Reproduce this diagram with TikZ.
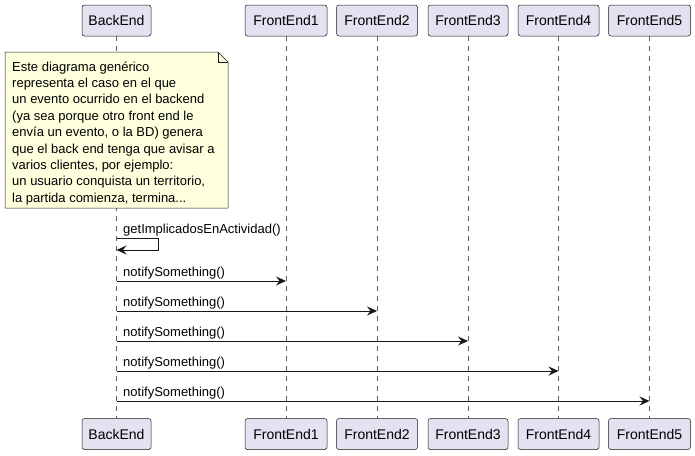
\documentclass[tikz,border=0pt]{standalone}
\usepackage{fontspec}
\setmainfont{Liberation Sans}
\usetikzlibrary{arrows.meta}
\definecolor{partfill}{HTML}{E2E2F0}
\definecolor{partdraw}{HTML}{181818}
\definecolor{notefill}{HTML}{FEFFDD}
\definecolor{lifecol}{HTML}{181818}
\tikzset{
  participant/.style={draw=partdraw, fill=partfill, line width=0.5pt, rounded corners=2.5pt,
    minimum height=31pt, inner sep=0pt, font=\fontsize{14}{16}\selectfont, text=black},
  lifeline/.style={draw=lifecol!70, line width=0.5pt, dash pattern=on 5pt off 5pt},
  msg/.style={draw=partdraw, line width=1pt, -{Stealth[length=10pt,width=9pt,inset=3.5pt]}},
  msglabel/.style={anchor=base west, inner sep=0pt, font=\fontsize{13}{15}\selectfont},
  notebox/.style={draw=partdraw, fill=notefill, line width=0.5pt},
  noteline/.style={anchor=base west, inner sep=0pt, font=\fontsize{13}{16}\selectfont}
}
\begin{document}
\begin{tikzpicture}[x=1pt,y=-1pt]
\useasboundingbox (0,0) rectangle (695,455);

% participants, top and bottom, joined by their lifelines
\foreach \nm/\lbl/\cx/\w in {be/BackEnd/116.5/69, f1/FrontEnd1/286/82, f2/FrontEnd2/377/81,
    f3/FrontEnd3/468/80, f4/FrontEnd4/558.5/81, f5/FrontEnd5/649.5/82} {
  \node[participant, minimum width=\w pt] (\nm-top) at (\cx,20.5) {\lbl};
  \node[participant, minimum width=\w pt] (\nm-bot) at (\cx,434) {\lbl};
  \draw[lifeline] (\nm-top.south) -- (\nm-bot.north);
}

% note over BackEnd
\draw[notebox] (5,52) -- (218,52) -- (228,62) -- (228,208) -- (5,208) -- cycle;
\draw[draw=partdraw, line width=0.5pt] (218,52) -- (218,62) -- (228,62);
\node[noteline] (note-1) at (12,71.0)  {Este diagrama genérico};
\node[noteline] (note-2) at (12,87.4)  {representa el caso en el que};
\node[noteline] (note-3) at (12,103.8) {un evento ocurrido en el backend};
\node[noteline] (note-4) at (12,120.2) {(ya sea porque otro front end le};
\node[noteline] (note-5) at (12,136.6) {envía un evento, o la BD) genera};
\node[noteline] (note-6) at (12,153.0) {que el back end tenga que avisar a};
\node[noteline] (note-7) at (12,169.4) {varios clientes, por ejemplo:};
\node[noteline] (note-8) at (12,185.8) {un usuario conquista un territorio,};
\node[noteline] (note-9) at (12,202.0) {la partida comienza, termina...};

% self message on BackEnd
\node[msglabel] (lbl-self) at (123,233) {getImplicadosEnActividad()};
\coordinate (self-s) at (be-top.south |- 0,238);
\coordinate (self-e) at (be-top.south |- 0,250);
\draw[msg] (self-s) -- (158,238) -- (158,250) -- (self-e);

% notifications from BackEnd to each front end
\foreach \nm/\yy in {f1/281, f2/311, f3/341, f4/371, f5/401} {
  \coordinate (src-\nm) at (be-top.south |- 0,\yy);
  \coordinate (dst-\nm) at (\nm-top.south |- 0,\yy);
  \node[msglabel] (lbl-\nm) at (123,\yy-4.5) {notifySomething()};
  \draw[msg] (src-\nm) -- (dst-\nm);
}
\end{tikzpicture}
\end{document}
